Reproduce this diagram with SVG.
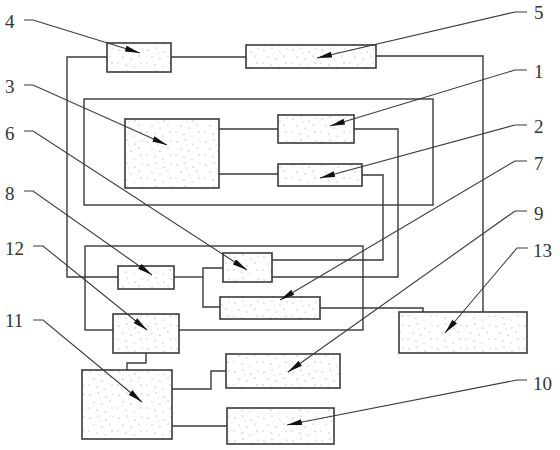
<svg xmlns="http://www.w3.org/2000/svg" width="560" height="450" viewBox="0 0 560 450">
<style>
.box{fill:url(#dots);stroke:#3a3a3a;stroke-width:1.6}
.frame{fill:none;stroke:#3a3a3a;stroke-width:1.4}
.wire{fill:none;stroke:#3a3a3a;stroke-width:1.4}
.lead{fill:none;stroke:#3a3a3a;stroke-width:1.1;marker-end:url(#ah)}
.lbl{font-family:"Liberation Serif","DejaVu Serif",serif;font-size:19px;fill:#333}
</style>
<defs>
<pattern id="dots" patternUnits="userSpaceOnUse" width="29" height="23">
<rect width="29" height="23" fill="#fff"/>
<g fill="#8a8a8a">
<circle cx="3" cy="4" r="0.6"/><circle cx="11" cy="2" r="0.55"/><circle cx="19" cy="6" r="0.6"/><circle cx="26" cy="3" r="0.5"/>
<circle cx="7" cy="11" r="0.55"/><circle cx="15" cy="13" r="0.6"/><circle cx="23" cy="10" r="0.55"/><circle cx="2" cy="17" r="0.5"/>
<circle cx="10" cy="19" r="0.6"/><circle cx="18" cy="21" r="0.5"/><circle cx="25" cy="17" r="0.6"/><circle cx="13" cy="7" r="0.45"/>
</g>
</pattern>
<marker id="ah" markerUnits="userSpaceOnUse" markerWidth="16" markerHeight="6" refX="15" refY="3" orient="auto">
<path d="M0,0 L15,3 L0,6 z" fill="#111"/>
</marker>
</defs>

<g id="frames">
<rect class="frame" x="84" y="99" width="349" height="106"/>
<rect class="frame" x="85" y="246" width="278" height="84"/>
</g>

<g id="connectors">
<polyline class="wire" points="107,57 67,57 67,277 118,277"/>
<line class="wire" x1="171" y1="57" x2="246" y2="57"/>
<polyline class="wire" points="376,56 483,56 483,312"/>
<line class="wire" x1="219" y1="129" x2="278" y2="129"/>
<line class="wire" x1="219" y1="174" x2="278" y2="174"/>
<polyline class="wire" points="354,129 398,129 398,277 272,277"/>
<polyline class="wire" points="362,175 383,175 383,260 272,260"/>
<polyline class="wire" points="174,277 203,277"/>
<polyline class="wire" points="223,268 203,268 203,307 220,307"/>
<polyline class="wire" points="320,308 423,308 423,312"/>
<polyline class="wire" points="146,353 146,363 127,363 127,370"/>
<polyline class="wire" points="172,389 211,389 211,371 226,371"/>
<line class="wire" x1="172" y1="426" x2="227" y2="426"/>
</g>

<g id="n4"><rect class="box" x="107" y="43" width="64" height="29"/></g>
<g id="n5"><rect class="box" x="246" y="45" width="130" height="23"/></g>
<g id="n3"><rect class="box" x="125" y="119" width="94" height="69"/></g>
<g id="n1"><rect class="box" x="278" y="115" width="76" height="28"/></g>
<g id="n2"><rect class="box" x="278" y="164" width="84" height="22"/></g>
<g id="n8"><rect class="box" x="118" y="266" width="56" height="23"/></g>
<g id="n6"><rect class="box" x="223" y="253" width="49" height="29"/></g>
<g id="n7"><rect class="box" x="220" y="297" width="100" height="22"/></g>
<g id="n12"><rect class="box" x="113" y="314" width="66" height="39"/></g>
<g id="n13"><rect class="box" x="399" y="312" width="128" height="41"/></g>
<g id="n11"><rect class="box" x="82" y="370" width="90" height="69"/></g>
<g id="n9"><rect class="box" x="226" y="354" width="114" height="34"/></g>
<g id="n10"><rect class="box" x="227" y="408" width="107" height="36"/></g>

<g id="leaders">
<polyline class="lead" points="24,20 33,20 140,53"/>
<polyline class="lead" points="24,85 33,85 167,145"/>
<polyline class="lead" points="24,131 33,131 247,270"/>
<polyline class="lead" points="24,191 33,191 152,275"/>
<polyline class="lead" points="33,246 43,246 147,330"/>
<polyline class="lead" points="33,320 43,320 142,402"/>
<polyline class="lead" points="527,12 515,12 317,58"/>
<polyline class="lead" points="527,70 515,70 330,126"/>
<polyline class="lead" points="527,125 515,125 320,178"/>
<polyline class="lead" points="527,161 515,161 280,300"/>
<polyline class="lead" points="527,211 515,211 288,372"/>
<polyline class="lead" points="528,248 517,248 445,333"/>
<polyline class="lead" points="527,380 517,380 287,425"/>
</g>

<g id="labels">
<text class="lbl" x="5" y="28">4</text>
<text class="lbl" x="5" y="93">3</text>
<text class="lbl" x="5" y="140">6</text>
<text class="lbl" x="5" y="200">8</text>
<text class="lbl" x="5" y="255">12</text>
<text class="lbl" x="5" y="327">11</text>
<text class="lbl" x="534" y="19">5</text>
<text class="lbl" x="534" y="78">1</text>
<text class="lbl" x="534" y="133">2</text>
<text class="lbl" x="534" y="170">7</text>
<text class="lbl" x="534" y="220">9</text>
<text class="lbl" x="533" y="257">13</text>
<text class="lbl" x="533" y="390">10</text>
</g>
</svg>
